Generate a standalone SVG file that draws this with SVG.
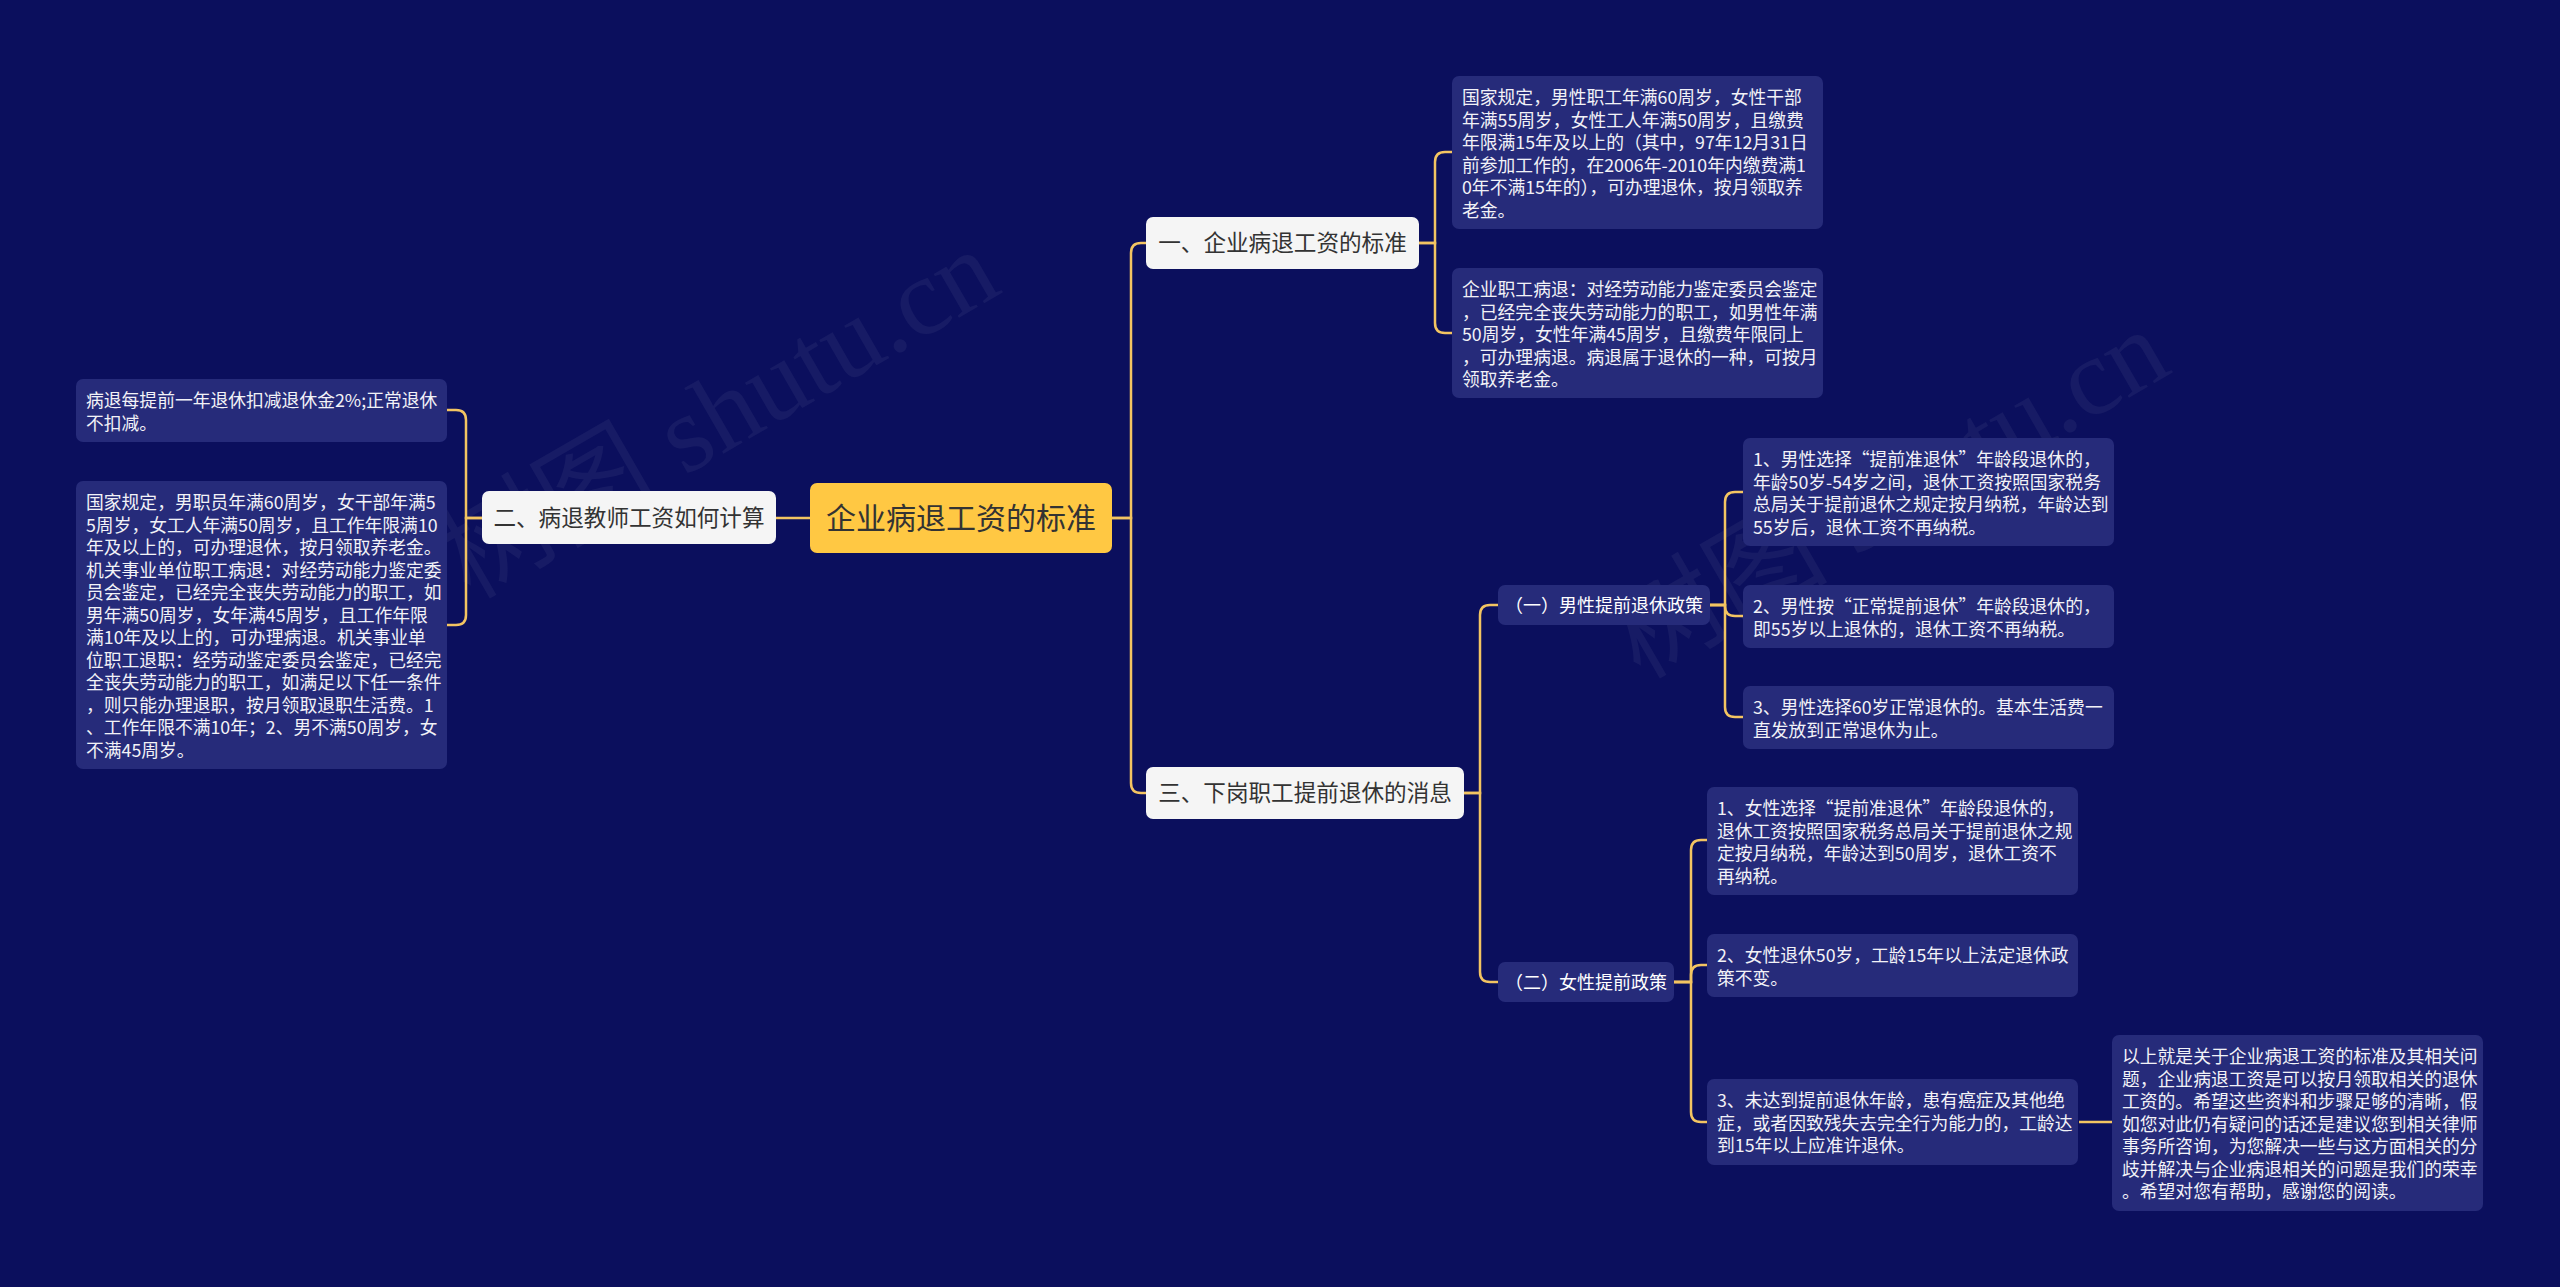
<svg xmlns="http://www.w3.org/2000/svg" width="2560" height="1287" viewBox="0 0 2560 1287">
<style>
.leaf rect{fill:#262b7a}
.leaf text{font-family:"Noto Sans CJK SC","Noto Sans",sans-serif;font-size:17.8px;fill:#f2f2f7}
.sub rect{fill:#262b7a}
.sub text{font-family:"Noto Sans CJK SC","Noto Sans",sans-serif;font-size:18px;fill:#ffffff;text-anchor:middle}
.main rect{fill:#f5f5f5}
.main text{font-family:"Noto Sans CJK SC","Noto Sans",sans-serif;font-size:22.6px;fill:#333333;text-anchor:middle}
.root rect{fill:#ffc843}
.root text{font-family:"Noto Sans CJK SC","Noto Sans",sans-serif;font-size:30px;fill:#333333;text-anchor:middle}
.wm{font-family:"Liberation Serif","Noto Sans CJK SC",serif;font-size:110px;fill:#ffffff;fill-opacity:0.05}
#connectors path{fill:none;stroke:#f3c462;stroke-width:2.5}
</style>
<rect x="0" y="0" width="2560" height="1287" fill="#0b0f5d"/>
<text class="wm" transform="translate(470,600) rotate(-30)">树图 shutu.cn</text>
<text class="wm" transform="translate(1640,680) rotate(-30)">树图 shutu.cn</text>
<g id="connectors">
<path d="M810,518 H776"/>
<path d="M1112,518 H1131 V253 Q1131,243 1141,243 H1146"/>
<path d="M1112,518 H1131 V783 Q1131,793 1141,793 H1146"/>
<path d="M482,518 H466 V420 Q466,410 456,410 H446"/>
<path d="M482,518 H466 V615 Q466,625 456,625 H446"/>
<path d="M1419,243 H1435 V162 Q1435,152 1445,152 H1452"/>
<path d="M1419,243 H1435 V323 Q1435,333 1445,333 H1452"/>
<path d="M1464,793 H1480 V615 Q1480,605 1490,605 H1498"/>
<path d="M1464,793 H1480 V972 Q1480,982 1490,982 H1498"/>
<path d="M1710,605 H1725 V502 Q1725,492 1735,492 H1743"/>
<path d="M1710,605 H1725 V606 Q1725,616 1735,616 H1743"/>
<path d="M1710,605 H1725 V707 Q1725,717 1735,717 H1743"/>
<path d="M1674,982 H1691 V850 Q1691,840 1701,840 H1707"/>
<path d="M1674,982 H1691 V975 Q1691,965 1701,965 H1707"/>
<path d="M1674,982 H1691 V1112 Q1691,1122 1701,1122 H1707"/>
<path d="M2079,1122 H2112"/>
</g>
<g id="root" class="root">
<rect x="810" y="483" width="302" height="70" rx="7"/>
<text x="961" y="528.5">企业病退工资的标准</text>
</g>
<g id="n1" class="main">
<rect x="1146" y="217" width="273" height="52" rx="7"/>
<text x="1282.5" y="251">一、企业病退工资的标准</text>
</g>
<g id="n2" class="main">
<rect x="482" y="491" width="294" height="53" rx="7"/>
<text x="629" y="525.5">二、病退教师工资如何计算</text>
</g>
<g id="n3" class="main">
<rect x="1146" y="767" width="318" height="52" rx="7"/>
<text x="1305" y="801">三、下岗职工提前退休的消息</text>
</g>
<g id="n3a" class="sub">
<rect x="1498" y="585" width="212" height="40" rx="7"/>
<text x="1604" y="611.5">（一）男性提前退休政策</text>
</g>
<g id="n3b" class="sub">
<rect x="1498" y="962" width="176" height="40" rx="7"/>
<text x="1586" y="988.5">（二）女性提前政策</text>
</g>
<g id="l1" class="leaf">
<rect x="1452" y="76" width="371" height="153" rx="7"/>
<text x="1462" y="104">国家规定，男性职工年满60周岁，女性干部</text>
<text x="1462" y="126.5">年满55周岁，女性工人年满50周岁，且缴费</text>
<text x="1462" y="149">年限满15年及以上的（其中，97年12月31日</text>
<text x="1462" y="171.5">前参加工作的，在2006年-2010年内缴费满1</text>
<text x="1462" y="194">0年不满15年的），可办理退休，按月领取养</text>
<text x="1462" y="216.5">老金。</text>
</g>
<g id="l2" class="leaf">
<rect x="1452" y="268" width="371" height="130" rx="7"/>
<text x="1462" y="296">企业职工病退：对经劳动能力鉴定委员会鉴定</text>
<text x="1462" y="318.5">，已经完全丧失劳动能力的职工，如男性年满</text>
<text x="1462" y="341">50周岁，女性年满45周岁，且缴费年限同上</text>
<text x="1462" y="363.5">，可办理病退。病退属于退休的一种，可按月</text>
<text x="1462" y="386">领取养老金。</text>
</g>
<g id="l3" class="leaf">
<rect x="76" y="379" width="371" height="63" rx="7"/>
<text x="86" y="407">病退每提前一年退休扣减退休金2%;正常退休</text>
<text x="86" y="429.5">不扣减。</text>
</g>
<g id="l4" class="leaf">
<rect x="76" y="481" width="371" height="288" rx="7"/>
<text x="86" y="509">国家规定，男职员年满60周岁，女干部年满5</text>
<text x="86" y="531.5">5周岁，女工人年满50周岁，且工作年限满10</text>
<text x="86" y="554">年及以上的，可办理退休，按月领取养老金。</text>
<text x="86" y="576.5">机关事业单位职工病退：对经劳动能力鉴定委</text>
<text x="86" y="599">员会鉴定，已经完全丧失劳动能力的职工，如</text>
<text x="86" y="621.5">男年满50周岁，女年满45周岁，且工作年限</text>
<text x="86" y="644">满10年及以上的，可办理病退。机关事业单</text>
<text x="86" y="666.5">位职工退职：经劳动鉴定委员会鉴定，已经完</text>
<text x="86" y="689">全丧失劳动能力的职工，如满足以下任一条件</text>
<text x="86" y="711.5">，则只能办理退职，按月领取退职生活费。1</text>
<text x="86" y="734">、工作年限不满10年；2、男不满50周岁，女</text>
<text x="86" y="756.5">不满45周岁。</text>
</g>
<g id="l5" class="leaf">
<rect x="1743" y="438" width="371" height="108" rx="7"/>
<text x="1753" y="466">1、男性选择“提前准退休”年龄段退休的，</text>
<text x="1753" y="488.5">年龄50岁-54岁之间，退休工资按照国家税务</text>
<text x="1753" y="511">总局关于提前退休之规定按月纳税，年龄达到</text>
<text x="1753" y="533.5">55岁后，退休工资不再纳税。</text>
</g>
<g id="l6" class="leaf">
<rect x="1743" y="585" width="371" height="63" rx="7"/>
<text x="1753" y="613">2、男性按“正常提前退休”年龄段退休的，</text>
<text x="1753" y="635.5">即55岁以上退休的，退休工资不再纳税。</text>
</g>
<g id="l7" class="leaf">
<rect x="1743" y="686" width="371" height="63" rx="7"/>
<text x="1753" y="714">3、男性选择60岁正常退休的。基本生活费一</text>
<text x="1753" y="736.5">直发放到正常退休为止。</text>
</g>
<g id="l8" class="leaf">
<rect x="1707" y="787" width="371" height="108" rx="7"/>
<text x="1717" y="815">1、女性选择“提前准退休”年龄段退休的，</text>
<text x="1717" y="837.5">退休工资按照国家税务总局关于提前退休之规</text>
<text x="1717" y="860">定按月纳税，年龄达到50周岁，退休工资不</text>
<text x="1717" y="882.5">再纳税。</text>
</g>
<g id="l9" class="leaf">
<rect x="1707" y="934" width="371" height="63" rx="7"/>
<text x="1717" y="962">2、女性退休50岁，工龄15年以上法定退休政</text>
<text x="1717" y="984.5">策不变。</text>
</g>
<g id="l10" class="leaf">
<rect x="1707" y="1079" width="371" height="86" rx="7"/>
<text x="1717" y="1107">3、未达到提前退休年龄，患有癌症及其他绝</text>
<text x="1717" y="1129.5">症，或者因致残失去完全行为能力的，工龄达</text>
<text x="1717" y="1152">到15年以上应准许退休。</text>
</g>
<g id="l11" class="leaf">
<rect x="2112" y="1035" width="371" height="176" rx="7"/>
<text x="2122" y="1063">以上就是关于企业病退工资的标准及其相关问</text>
<text x="2122" y="1085.5">题，企业病退工资是可以按月领取相关的退休</text>
<text x="2122" y="1108">工资的。希望这些资料和步骤足够的清晰，假</text>
<text x="2122" y="1130.5">如您对此仍有疑问的话还是建议您到相关律师</text>
<text x="2122" y="1153">事务所咨询，为您解决一些与这方面相关的分</text>
<text x="2122" y="1175.5">歧并解决与企业病退相关的问题是我们的荣幸</text>
<text x="2122" y="1198">。希望对您有帮助，感谢您的阅读。</text>
</g>
</svg>
